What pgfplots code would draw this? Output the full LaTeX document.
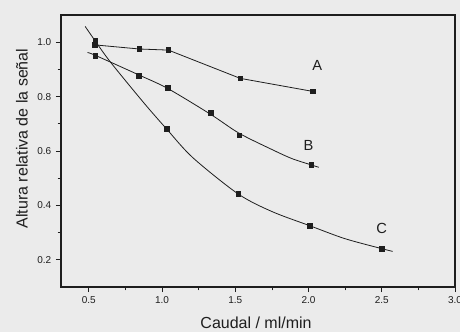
\documentclass[border=0pt]{standalone}
\usepackage{pgfplots}
\pgfplotsset{compat=1.18}
\usepackage{fontspec}
\setmainfont{Liberation Sans}
\definecolor{ink}{HTML}{1E1E1E}
\definecolor{paper}{HTML}{EBEBEB}
\begin{document}
\begin{tikzpicture}
\useasboundingbox (-45.75pt,-33.75pt) rectangle (299.25pt,215.25pt);
\fill[paper] (-45.75pt,-33.75pt) rectangle (299.25pt,215.25pt);
\begin{axis}[
  at={(0pt,0pt)}, anchor=south west,
  scale only axis, width=295.5pt, height=204pt,
  xmin=0.31, xmax=3.0, ymin=0.1, ymax=1.1,
  xtick={0.5,1.0,1.5,2.0,2.5,3.0},
  ytick={0.2,0.4,0.6,0.8,1.0},
  minor x tick num=1, minor y tick num=1,
  tick align=outside, xtick pos=bottom, ytick pos=left,
  major tick length=3.75pt, minor tick length=2.5pt,
  axis line style={ink, line width=0.8pt},
  every tick/.style={ink, line width=0.6pt},
  /pgf/number format/.cd, fixed, fixed zerofill, precision=1, assume math mode=true,
  /pgfplots/.cd,
  tick label style={font=\fontsize{7.5}{9}\selectfont, text=ink},
  xlabel={Caudal / ml/min},
  ylabel={Altura relativa de la señal},
  label style={font=\fontsize{12}{14}\selectfont, text=ink},
  xlabel style={at={(axis description cs:0.495,-0.132)}, anchor=center},
  ylabel style={at={(axis description cs:-0.099,0.546)}, anchor=center},
  clip=false,
]
% Series A
\addplot[ink, line width=0.6pt, mark=square*, mark size=1.7pt, mark options={solid}] coordinates {
  (0.543,0.990) (0.845,0.975) (1.043,0.971) (1.534,0.867) (2.030,0.819)
};
% Series B: fitted curve and points
\addplot[ink, line width=0.6pt, smooth] coordinates {
  (0.491,0.962) (0.543,0.952) (0.840,0.880) (1.038,0.830) (1.331,0.735)
  (1.527,0.665) (1.752,0.605) (1.887,0.572) (2.018,0.549) (2.070,0.540)
};
\addplot[ink, only marks, mark=square*, mark size=1.7pt] coordinates {
  (0.543,0.951) (0.840,0.877) (1.038,0.832) (1.331,0.740) (1.527,0.657) (2.018,0.549)
};
% Series C: fitted curve and points
\addplot[ink, line width=0.6pt, smooth] coordinates {
  (0.475,1.058) (0.543,1.005) (0.649,0.926) (0.874,0.778) (1.031,0.681)
  (1.211,0.575) (1.520,0.442) (1.752,0.377) (2.010,0.325) (2.247,0.278)
  (2.500,0.241) (2.574,0.231)
};
\addplot[ink, only marks, mark=square*, mark size=1.7pt] coordinates {
  (0.543,1.005) (1.031,0.681) (1.520,0.442) (2.010,0.325) (2.500,0.241)
};
\node[font=\fontsize{11}{13}\selectfont, text=ink] at (axis cs:2.06,0.915) {A};
\node[font=\fontsize{11}{13}\selectfont, text=ink] at (axis cs:2.00,0.620) {B};
\node[font=\fontsize{11}{13}\selectfont, text=ink] at (axis cs:2.50,0.315) {C};
\end{axis}
\end{tikzpicture}
\end{document}
